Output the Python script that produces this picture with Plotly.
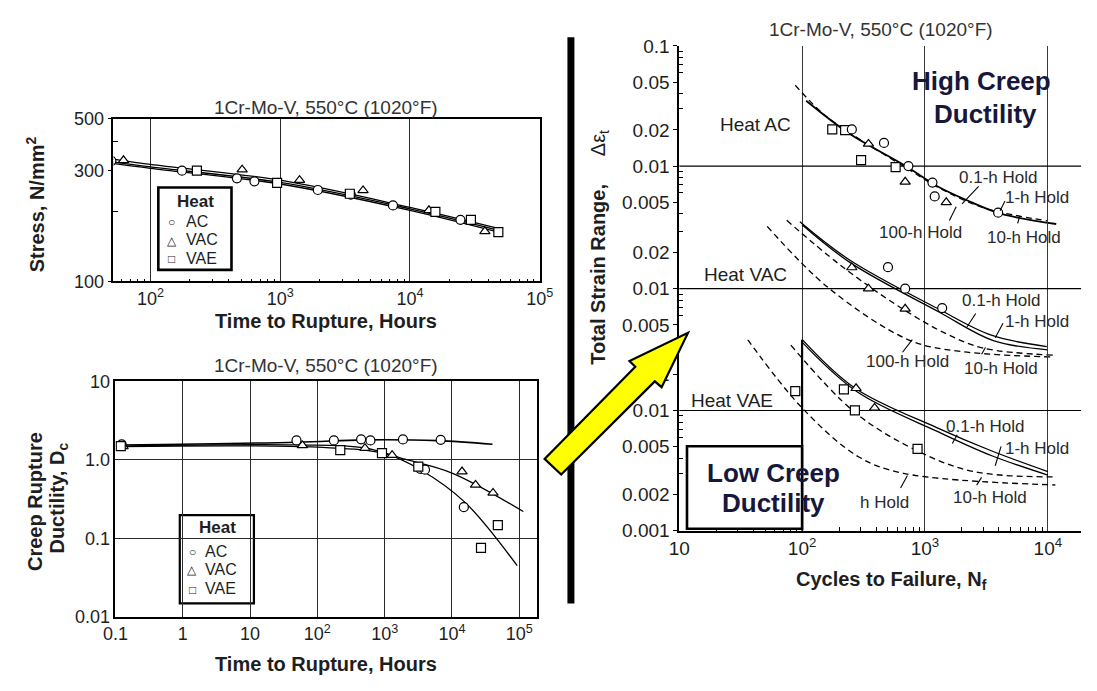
import math
import plotly.graph_objects as go

W, H = 1097, 691


def fx(p):
    return p / W


def fy(p):
    return 1 - p / H


FONT = "Liberation Sans, Arial, sans-serif"
INK = "#1e1e1e"
NAVY = "#17173c"

# ---------------- Stress rupture (upper left) ----------------
sr_ac_t = [50, 175, 464, 633, 1950, 3500, 7400, 24500]
sr_ac_s = [329, 299, 277, 269, 247, 236, 212, 184]
sr_vac_t = [62, 509, 1410, 4350, 14000, 37800]
sr_vac_s = [331, 302, 272, 246, 202, 164]
sr_vae_t = [228, 946, 3440, 15700, 29500, 48000]
sr_vae_s = [299, 265, 238, 199, 184, 163]
sr_fit_t = [50, 100, 1000, 10000, 50000]
sr_fit_ac = [327, 310, 266, 205, 165]
sr_fit_vac = [336, 318, 272, 208, 168]
sr_fit_vae = [322, 306, 262, 202, 162]

# ---------------- Creep rupture ductility (lower left) ----------------
cd_ac_t = [0.124, 49, 176, 447, 615, 1870, 6800, 3390, 3970, 15000]
cd_ac_d = [1.58, 1.77, 1.77, 1.83, 1.77, 1.82, 1.80, 0.77, 0.75, 0.25]
cd_vac_t = [0.13, 60, 510, 1290, 14100, 22400, 40700]
cd_vac_d = [1.49, 1.53, 1.41, 1.15, 0.71, 0.48, 0.38]
cd_vae_t = [0.12, 219, 912, 3160, 27000, 48000]
cd_vae_d = [1.5, 1.33, 1.22, 0.82, 0.076, 0.148]
cd_fit_ac_t = [0.12, 50, 500, 6000, 40000]
cd_fit_ac_d = [1.55, 1.68, 1.80, 1.76, 1.58]
cd_fit_vac_t = [0.12, 50, 500, 2000, 10000, 115000]
cd_fit_vac_d = [1.5, 1.55, 1.42, 1.02, 0.68, 0.22]
cd_fit_vae_t = [0.12, 100, 1000, 3400, 15500, 93000]
cd_fit_vae_d = [1.48, 1.45, 1.2, 0.75, 0.29, 0.045]

# ---------------- Strain range vs cycles (right), three stacked heats ----------------
# Heat AC
ac_n_circ = [254, 464, 733, 1150, 1200, 3940]
ac_e_circ = [0.0202, 0.0156, 0.0100, 0.0073, 0.0056, 0.0041]
ac_n_tri = [347, 690, 1490]
ac_e_tri = [0.0153, 0.0074, 0.0050]
ac_n_sq = [176, 224, 302, 577]
ac_e_sq = [0.0202, 0.0199, 0.0112, 0.0098]
ac_solid_n = [108, 240, 676, 1260, 2290, 4200, 11700]
ac_solid_e = [0.035, 0.0188, 0.0102, 0.0068, 0.0051, 0.0040, 0.0033]
ac_dash_n = [88, 150, 300, 700, 1300, 3000, 10000]
ac_dash_e = [0.047, 0.027, 0.0165, 0.0097, 0.0066, 0.0045, 0.0035]

# Heat VAC
vac_n_tri = [254, 347, 690]
vac_e_tri = [0.0150, 0.0100, 0.0068]
vac_n_circ = [500, 690, 1380]
vac_e_circ = [0.0151, 0.0100, 0.0069]
vac_h01_n = [96, 240, 1245, 3470, 9800]
vac_h01_e = [0.036, 0.0175, 0.0069, 0.0041, 0.0033]
vac_h1_n = [100, 250, 1300, 3600, 10000]
vac_h1_e = [0.034, 0.0163, 0.0064, 0.0037, 0.0031]
vac_h10_n = [75, 200, 600, 1500, 3000, 11000]
vac_h10_e = [0.037, 0.0160, 0.0072, 0.0042, 0.0032, 0.0028]
vac_h100_n = [52, 165, 760, 2000, 11000]
vac_h100_e = [0.033, 0.0101, 0.0037, 0.0030, 0.0027]

# Heat VAE
vae_n_sq = [88, 219, 269, 870]
vae_e_sq = [0.0145, 0.0150, 0.0100, 0.0048]
vae_n_tri = [275, 389]
vae_e_tri = [0.0153, 0.0105]
vae_h01_n = [100, 270, 1245, 3500, 10000]
vae_h01_e = [0.039, 0.0153, 0.0072, 0.0046, 0.0031]
vae_h1_n = [100, 280, 1300, 3500, 10000]
vae_h1_e = [0.037, 0.0143, 0.0066, 0.0042, 0.0029]
vae_h10_n = [81, 270, 870, 2500, 11500]
vae_h10_e = [0.035, 0.0096, 0.0046, 0.0031, 0.0028]
vae_h100_n = [36, 100, 290, 670, 11500]
vae_h100_e = [0.039, 0.0105, 0.0041, 0.0030, 0.0024]

fig = go.Figure()


def pts(x, y, symbol, xa, ya, size=9):
    fig.add_trace(go.Scatter(
        x=x, y=y, mode="markers", xaxis=xa, yaxis=ya, showlegend=False,
        marker=dict(symbol=symbol, size=size, color="white",
                    line=dict(color="black", width=1.2)),
        hoverinfo="skip"))


def curve(x, y, xa, ya, dash="solid", width=1.3, shape="spline"):
    fig.add_trace(go.Scatter(
        x=x, y=y, mode="lines", xaxis=xa, yaxis=ya, showlegend=False,
        line=dict(color="black", width=width, dash=dash, shape=shape),
        hoverinfo="skip"))


# upper left
curve(sr_fit_t, sr_fit_ac, "x", "y")
curve(sr_fit_t, sr_fit_vac, "x", "y")
curve(sr_fit_t, sr_fit_vae, "x", "y")
pts(sr_ac_t, sr_ac_s, "circle", "x", "y")
pts(sr_vac_t, sr_vac_s, "triangle-up", "x", "y")
pts(sr_vae_t, sr_vae_s, "square", "x", "y")

# lower left
curve(cd_fit_ac_t, cd_fit_ac_d, "x2", "y2", width=1.6)
curve(cd_fit_vac_t, cd_fit_vac_d, "x2", "y2")
curve(cd_fit_vae_t, cd_fit_vae_d, "x2", "y2")
pts(cd_ac_t, cd_ac_d, "circle", "x2", "y2")
pts(cd_vac_t, cd_vac_d, "triangle-up", "x2", "y2")
pts(cd_vae_t, cd_vae_d, "square", "x2", "y2")

# right: horizontal 0.01 reference lines in each band
for ya in ("y3", "y4", "y5"):
    curve([10, 20000], [0.01, 0.01], "x3", ya, width=1.1, shape="linear")
curve([100, 100], [0.001, 0.04], "x3", "y5", width=2.2, shape="linear")

# band: heat AC
curve(ac_solid_n, ac_solid_e, "x3", "y3", width=1.8)
curve(ac_dash_n, ac_dash_e, "x3", "y3", dash="6px,4px", width=1.3)
pts(ac_n_sq, ac_e_sq, "square", "x3", "y3")
pts(ac_n_circ, ac_e_circ, "circle", "x3", "y3")
pts(ac_n_tri, ac_e_tri, "triangle-up", "x3", "y3")

# band: heat VAC
curve(vac_h01_n, vac_h01_e, "x3", "y4")
curve(vac_h1_n, vac_h1_e, "x3", "y4")
curve(vac_h10_n, vac_h10_e, "x3", "y4", dash="6px,4px")
curve(vac_h100_n, vac_h100_e, "x3", "y4", dash="6px,4px")
pts(vac_n_tri, vac_e_tri, "triangle-up", "x3", "y4")
pts(vac_n_circ, vac_e_circ, "circle", "x3", "y4")

# band: heat VAE
curve(vae_h01_n, vae_h01_e, "x3", "y5")
curve(vae_h1_n, vae_h1_e, "x3", "y5")
curve(vae_h10_n, vae_h10_e, "x3", "y5", dash="6px,4px")
curve(vae_h100_n, vae_h100_e, "x3", "y5", dash="6px,4px")
pts(vae_n_sq, vae_e_sq, "square", "x3", "y5")
pts(vae_n_tri, vae_e_tri, "triangle-up", "x3", "y5")


def sup(e):
    return "10<sup>%d</sup>" % e


def minor_vals(lo_exp, hi_exp, mults=(2, 3, 4, 5, 6, 7, 8, 9)):
    out = []
    for e in range(lo_exp, hi_exp + 1):
        for m in mults:
            out.append(m * 10 ** e)
    return out


def axis(**kw):
    base = dict(type="log", showline=True, linecolor="black", linewidth=1.6,
                ticks="outside", ticklen=4, tickwidth=1.2, tickcolor="black",
                tickfont=dict(family=FONT, size=18, color=INK),
                showgrid=False, zeroline=False, tickmode="array",
                fixedrange=True)
    base.update(kw)
    return base


GRID = dict(showgrid=True, gridcolor="#2a2a2a", gridwidth=1.3)

layout_axes = dict(
    xaxis=axis(domain=[fx(103), fx(540)], range=[1.715, 5.0], anchor="y",
               tickvals=[100, 1000, 10000, 100000],
               ticktext=[sup(2), sup(3), sup(4), sup(5)], ticks="",
               mirror=True,
               minor=dict(tickvals=minor_vals(1, 4), ticks="inside",
                          ticklen=3, tickcolor="black", showgrid=False),
               **GRID),
    yaxis=axis(domain=[fy(280), fy(112)], range=[2, math.log10(500)],
               anchor="x", tickvals=[100, 300, 500],
               ticktext=["100", "300", "500"], mirror=True,
               minor=dict(tickvals=[200, 400], ticks="inside", ticklen=5,
                          tickcolor="black", showgrid=False)),
    xaxis2=axis(domain=[fx(105), fx(537)], range=[-1, 5.26], anchor="y2",
                tickvals=[0.1, 1, 10, 100, 1000, 10000, 100000],
                ticktext=["0.1", "1", "10", sup(2), sup(3), sup(4), sup(5)],
                ticks="", mirror=True, **GRID),
    yaxis2=axis(domain=[fy(626), fy(383)], range=[-2, 1], anchor="x2",
                tickvals=[0.01, 0.1, 1, 10],
                ticktext=["0.01", "0.1", "1.0", "10"], ticks="",
                mirror=True, **GRID),
    xaxis3=axis(domain=[fx(683), fx(1095)], range=[1, 4.27], anchor="y5",
                tickvals=[10, 100, 1000, 10000],
                ticktext=["10", sup(2), sup(3), sup(4)], ticks="",
                tickfont=dict(family=FONT, size=19, color=INK),
                showgrid=True, gridcolor="#3a3a3a", gridwidth=1.1,
                minor=dict(tickvals=minor_vals(1, 3), ticks="inside",
                           ticklen=4, tickcolor="black", showgrid=False)),
)

# The three strain bands share one cycles axis; their pixel extents overlap
# slightly so the curve tails of one heat may run into the next band.
right_minor = dict(ticks="inside", ticklen=4, tickcolor="black",
                   showgrid=False)
layout_axes["yaxis3"] = axis(
    domain=[fy(225), fy(37)], range=[-1 - 188 / 124, -1], anchor="x3",
    tickvals=[0.005, 0.01, 0.02, 0.05, 0.1],
    ticktext=["0.005", "0.01", "0.02", "0.05", "0.1"],
    tickfont=dict(family=FONT, size=19, color=INK),
    minor=dict(tickvals=[0.004, 0.006, 0.007, 0.008, 0.009, 0.03, 0.04,
                         0.06, 0.07, 0.08, 0.09], **right_minor))
layout_axes["yaxis4"] = axis(
    domain=[fy(360), fy(213)], range=[-1.4 - 147 / 124, -1.4], anchor="x3",
    tickvals=[0.005, 0.01, 0.02], ticktext=["0.005", "0.01", "0.02"],
    tickfont=dict(family=FONT, size=19, color=INK),
    minor=dict(tickvals=[0.004, 0.006, 0.007, 0.008, 0.009, 0.03],
               **right_minor))
layout_axes["yaxis5"] = axis(
    domain=[fy(537), fy(340)], range=[-3, -1.411], anchor="x3",
    tickvals=[0.001, 0.002, 0.005, 0.01, 0.02],
    ticktext=["0.001", "0.002", "0.005", "0.01", "0.02"],
    tickfont=dict(family=FONT, size=19, color=INK),
    minor=dict(tickvals=[0.003, 0.004, 0.006, 0.007, 0.008, 0.009],
               **right_minor))

annotations = []


def text(t, x, y, size, color=INK, bold=False, xanchor="center", angle=0):
    if bold:
        t = "<b>%s</b>" % t
    annotations.append(dict(
        text=t, x=fx(x), y=fy(y), xref="paper", yref="paper",
        xanchor=xanchor, yanchor="middle", showarrow=False,
        textangle=angle, font=dict(family=FONT, size=size, color=color)))


TITLE = "1Cr-Mo-V, 550°C (1020°F)"
text(TITLE, 321, 101, 19, color="#333")
text(TITLE, 321, 367, 19, color="#333")
text(TITLE, 890, 20, 19, color="#333")

text("Time to Rupture, Hours", 321, 321, 20, bold=True)
text("Time to Rupture, Hours", 321, 675, 20, bold=True)
text("Cycles to Failure, N<sub>f</sub>", 901, 588, 20, bold=True)
text("Stress, N/mm<sup>2</sup>", 23, 200, 20, bold=True, angle=-90)
text("Creep Rupture", 22, 507, 20, bold=True, angle=-90)
text("Ductility, D<sub>c</sub>", 47, 503, 20, bold=True, angle=-90)
text("<b>Total Strain Range,</b>&nbsp;&nbsp;&nbsp;&nbsp; Δε<sub>t</sub>",
     601, 245, 20, angle=-90)

# legends drawn as framed text blocks
LEG = 16
text("Heat", 187, 197, 17, bold=True)
text("AC", 175, 218, LEG, xanchor="left")
text("VAC", 175, 237, LEG, xanchor="left")
text("VAE", 175, 256, LEG, xanchor="left")
text("○", 163, 219, 12)
text("△", 163, 238, 12)
text("□", 163, 257, 12)

text("Heat", 210, 534, 17, bold=True)
text("AC", 195, 558, LEG, xanchor="left")
text("VAC", 195, 577, LEG, xanchor="left")
text("VAE", 195, 597, LEG, xanchor="left")
text("○", 184, 559, 12)
text("△", 184, 578, 12)
text("□", 184, 598, 12)

# right panel labels
text("Heat AC", 761, 118, 19)
text("Heat VAC", 751, 273, 19)
text("Heat VAE", 737, 403, 19)
text("High Creep", 993, 73, 26, color=NAVY, bold=True)
text("Ductility", 997, 107, 26, color=NAVY, bold=True)
text("Low Creep", 780, 477, 26, color=NAVY, bold=True)
text("Ductility", 780, 508, 26, color=NAVY, bold=True)

hold_labels = [
    ("0.1-h Hold", 1010, 173), ("1-h Hold", 1050, 193),
    ("100-h Hold", 930, 229), ("10-h Hold", 1037, 235),
    ("0.1-h Hold", 1013, 300), ("1-h Hold", 1050, 321),
    ("100-h Hold", 917, 363), ("10-h Hold", 1013, 370),
    ("0.1-h Hold", 997, 430), ("1-h Hold", 1050, 452),
    ("h Hold", 893, 508), ("10-h Hold", 1002, 503),
]
for t, x, y in hold_labels:
    text(t, x, y, 17, color="#2a2a2a")

shapes = []


def seg(x0, y0, x1, y1, width=1.2, color="black"):
    shapes.append(dict(type="line", xref="paper", yref="paper",
                       x0=fx(x0), y0=fy(y0), x1=fx(x1), y1=fy(y1),
                       line=dict(color=color, width=width)))


def rect(x0, y0, x1, y1, width=2.0, fill="rgba(0,0,0,0)", layer="above"):
    shapes.append(dict(type="rect", xref="paper", yref="paper",
                       x0=fx(x0), y0=fy(y0), x1=fx(x1), y1=fy(y1),
                       fillcolor=fill, layer=layer,
                       line=dict(color="black", width=width)))


# hold-label leader lines
leaders = [
    (990, 182, 973, 200), (1017, 197, 1012, 207), (967, 203, 960, 217),
    (1032, 213, 1030, 220),
    (987, 313, 978, 327), (1015, 323, 1007, 338), (922, 340, 912, 353),
    (997, 348, 993, 355),
    (968, 438, 963, 447), (1013, 450, 1007, 470), (917, 480, 910, 493),
    (993, 482, 988, 490),
]
for x0, y0, x1, y1 in leaders:
    seg(x0, y0, x1, y1, width=1.1)

# legend frames
rect(149, 183, 224, 268, width=2.6, fill="white", layer="below")
rect(171, 521, 247, 612, width=2.2, fill="white", layer="below")

# low creep ductility frame
rect(691, 450, 809, 535, width=2.6, fill="white")

# divider bar between the panels
seg(572, 28, 572, 612, width=7)

# yellow arrow pointing from the ductility plot to the strain-range plot
arrow_pts = [(545, 463), (562, 479), (658, 383), (665, 389), (692, 333),
             (632, 362), (638, 368)]
path = "M " + " L ".join("%.5f,%.5f" % (fx(x), fy(y)) for x, y in arrow_pts) + " Z"
shapes.append(dict(type="path", path=path, xref="paper", yref="paper",
                   fillcolor="#ffff00", layer="above",
                   line=dict(color="black", width=2.2)))

fig.update_layout(
    width=W, height=H, margin=dict(l=0, r=0, t=0, b=0),
    paper_bgcolor="white", plot_bgcolor="rgba(0,0,0,0)",
    showlegend=False, annotations=annotations, shapes=shapes,
    font=dict(family=FONT, color=INK),
    **layout_axes)

fig.write_html("out.html")
